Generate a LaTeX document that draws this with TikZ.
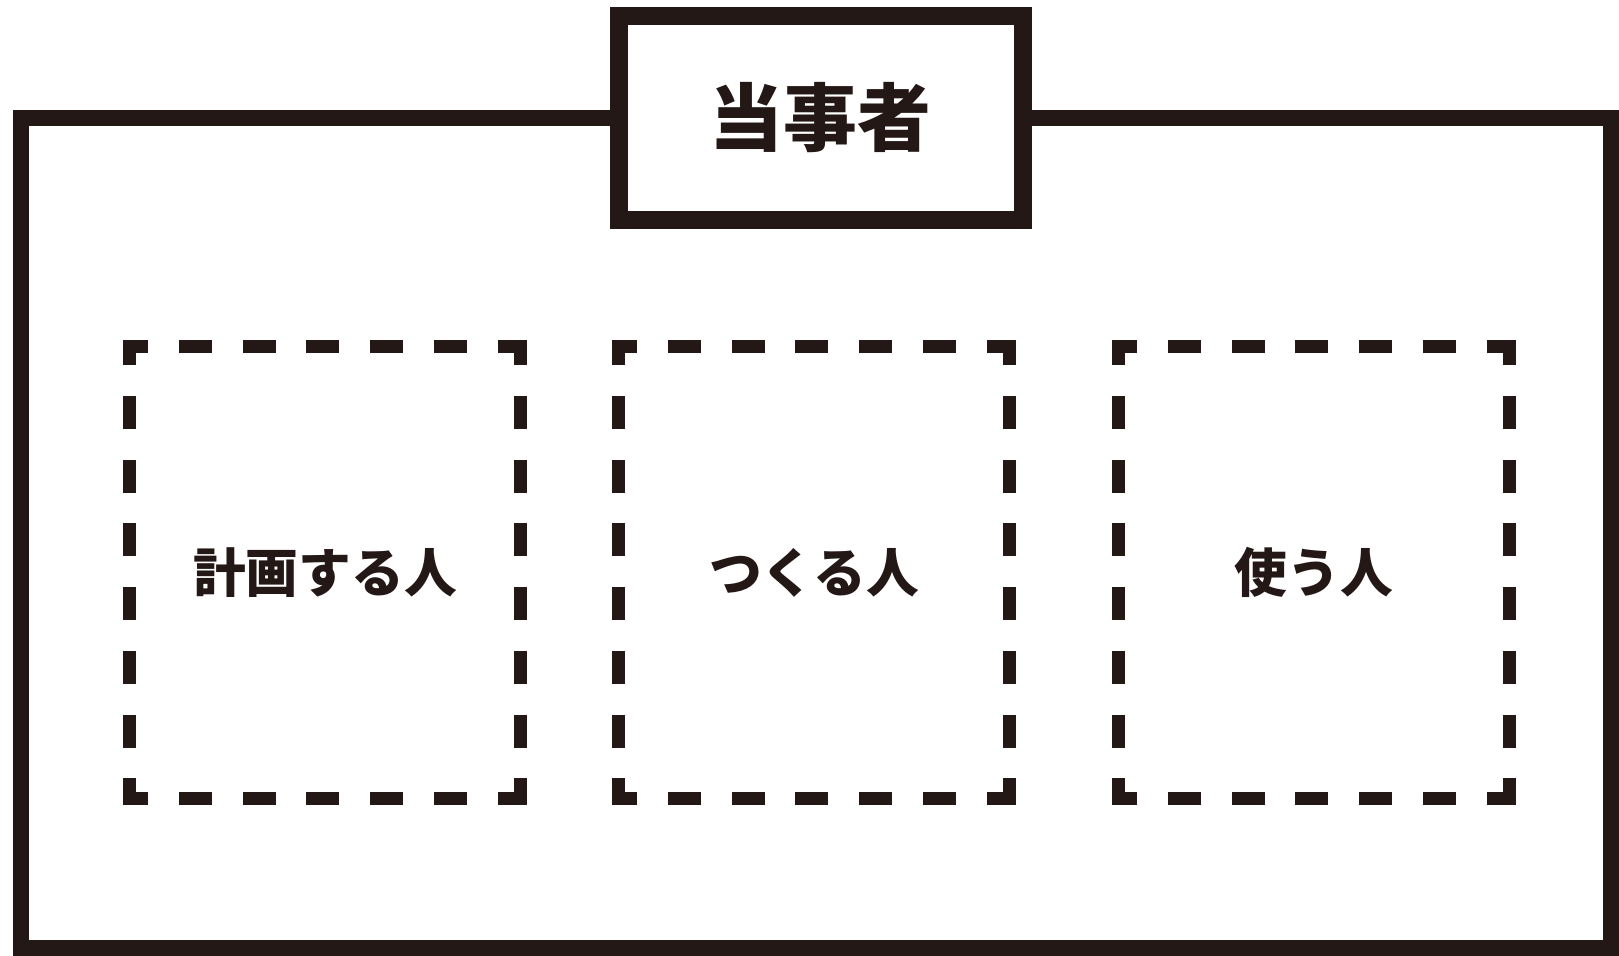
\documentclass[tikz,border=0pt]{standalone}
\usepackage{fontspec}
\newfontfamily\jpfont{Noto Sans CJK JP}
\usetikzlibrary{positioning}
\definecolor{ink}{HTML}{231815}

\tikzset{
  frameline/.style={draw=ink, line width=0.16cm},
  titlebox/.style={draw=ink, fill=white, line width=0.18cm, inner sep=0pt,
    minimum width=4.035cm, minimum height=2.04cm,
    font=\jpfont\bfseries\fontsize{21pt}{24pt}\selectfont, text=ink},
  personbox/.style={inner sep=0pt, minimum width=3.89cm, minimum height=4.5cm,
    font=\jpfont\bfseries\fontsize{15pt}{18pt}\selectfont, text=ink},
  dashside/.style={draw=ink, line width=0.13cm,
    shorten <=-0.065cm, shorten >=-0.065cm,
    dash pattern=on 0.33cm off 0.307cm, dash phase=0.08cm}
}

\begin{document}
\begin{tikzpicture}[x=0.01cm, y=-0.01cm]
    \useasboundingbox (0,0) rectangle (1619,955);

    % Outer frame
    \draw[frameline] (21,118) rectangle (1611,948);

    % Title box sitting on the top line
    \node[titlebox] (party) at (820.75,118) {当事者};

    % The three people
    \node[personbox] (plan) at (325,572.5) {計画する人};
    \node[personbox] (make) at (814,572.5) {つくる人};
    \node[personbox] (use) at (1314,572.5) {使う人};

    % Dashed frames, one side at a time so each corner gets its L
    \foreach \p in {plan, make, use} {
      \draw[dashside] (\p.north west) -- (\p.north east);
      \draw[dashside] (\p.south west) -- (\p.south east);
      \draw[dashside] (\p.north west) -- (\p.south west);
      \draw[dashside] (\p.north east) -- (\p.south east);
    }

\end{tikzpicture}
\end{document}
